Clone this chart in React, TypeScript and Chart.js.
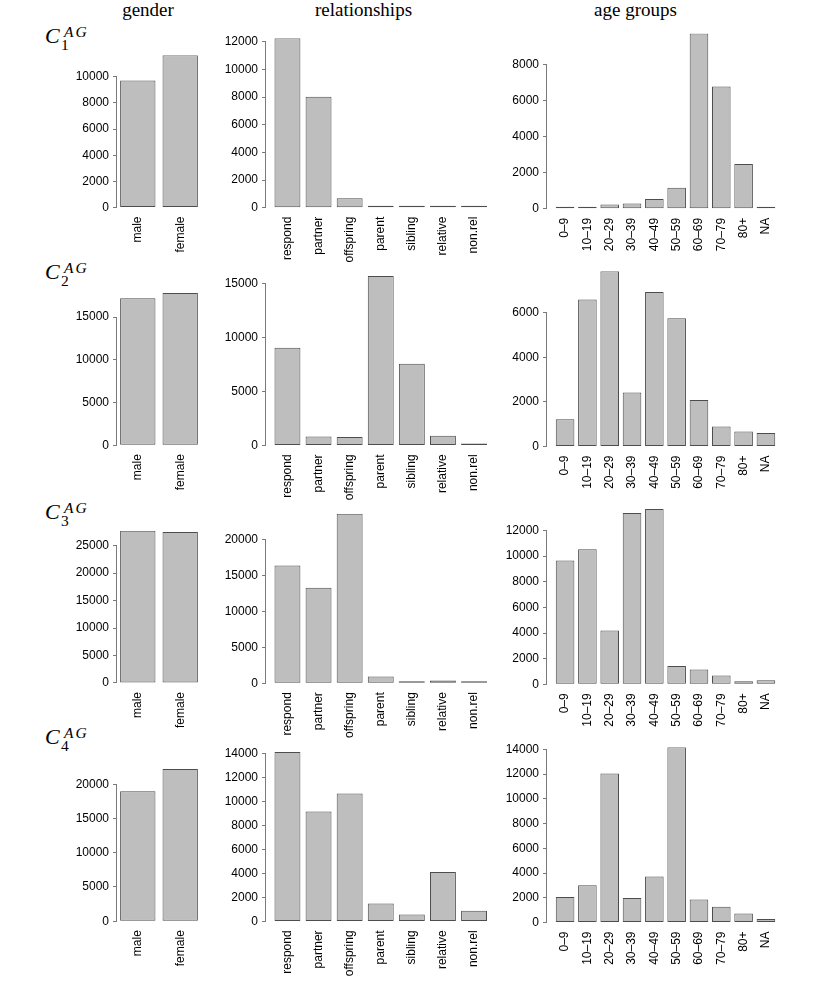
import React, { useEffect, useRef } from "react";
import { Chart, registerables } from "chart.js";

Chart.register(...registerables);

// ---------------- data ----------------
const genderLabels = ["male", "female"];
const relationshipLabels = ["respond", "partner", "offspring", "parent", "sibling", "relative", "non.rel"];
const ageLabels = ["0–9", "10–19", "20–29", "30–39", "40–49", "50–59", "60–69", "70–79", "80+", "NA"];

const genderC1 = [9720, 11640];
const genderC2 = [17190, 17810];
const genderC3 = [27680, 27440];
const genderC4 = [18980, 22240];

const relationshipC1 = [12270, 8040, 680, 150, 120, 110, 90];
const relationshipC2 = [9040, 830, 770, 15680, 7560, 890, 185];
const relationshipC3 = [16390, 13280, 23580, 930, 240, 380, 280];
const relationshipC4 = [14160, 9180, 10680, 1500, 580, 4120, 890];

const ageC1 = [20, 70, 240, 290, 550, 1170, 9720, 6780, 2480, 20];
const ageC2 = [1225, 6590, 7850, 2420, 6920, 5750, 2080, 900, 670, 600];
const ageC3 = [9650, 10540, 4200, 13360, 13670, 1430, 1150, 680, 235, 310];
const ageC4 = [2070, 3020, 12050, 1990, 3720, 14160, 1850, 1270, 730, 290];

const genderTickStep = [2000, 5000, 5000, 5000];
const relationshipTickStep = [2000, 5000, 5000, 2000];
const ageTickStep = [2000, 2000, 2000, 2000];

const columnTitles = ["gender", "relationships", "age groups"];
const clusterIndex = ["1", "2", "3", "4"];

const genderSeries = [genderC1, genderC2, genderC3, genderC4];
const relationshipSeries = [relationshipC1, relationshipC2, relationshipC3, relationshipC4];
const ageSeries = [ageC1, ageC2, ageC3, ageC4];

// ---------------- layout / style ----------------
const FILL = "#bebebe";
const EDGE = "#4d4d4d";
const AXIS = "#7a7a7a";
const TEXT = "#000000";
const SANS = "'Liberation Sans', Arial, sans-serif";
const SERIF = "'Liberation Serif', 'Times New Roman', serif";

const COLS = [
  { left: 117, right: 201, height: 152.2, dy: -0.2, titleX: 148 },
  { left: 266, right: 495.5, height: 169.5, dy: 0, titleX: 363.5 },
  { left: 547, right: 784, height: 175.2, dy: 1.1, titleX: 635.5 },
];
const ROW_BASE = [207.7, 445.4, 683.2, 921.4];
const ROW_LABEL_TOP = [29.3, 265, 505, 730];

type PanelProps = { labels: string[]; values: number[]; step: number; col: number; row: number };

function Panel({ labels, values, step, col, row }: PanelProps) {
  const ref = useRef<HTMLCanvasElement>(null);
  const c = COLS[col];
  const YW = 60;
  const XH = 75;
  const PADT = 12;
  const PADR = 14;
  const y0 = ROW_BASE[row] + c.dy;
  const plotTop = y0 - c.height;
  const canvasLeft = c.left - YW;
  const canvasTop = Math.floor(plotTop - PADT);
  const padTop = plotTop - canvasTop;
  const plotW = c.right - c.left;
  const width = Math.ceil(plotW + YW + PADR);
  const padRight = width - YW - plotW;
  const height = Math.ceil(padTop + c.height + XH);
  const xh = height - padTop - c.height;

  useEffect(() => {
    const canvas = ref.current;
    if (!canvas) return;
    const n = labels.length;
    const ext = 0.04 * (1.2 * n - 0.2);
    const startValue = (-0.5 - ext) / 1.2;
    const valueRange = (1.2 * n - 0.2 + 2 * ext) / 1.2;
    const maxV = Math.max(...values);
    const ticks: number[] = [];
    for (let v = 0; v <= maxV; v += step) ticks.push(v);

    const axisPlugin = {
      id: "rAxisLine",
      afterDraw(chart: any) {
        const ys = chart.scales.y;
        const ctx = chart.ctx;
        const x = Math.round(chart.chartArea.left) - 0.5;
        const yA = Math.round(ys.getPixelForValue(0) - 0.5) + 0.5;
        const yB = Math.round(ys.getPixelForValue(ticks[ticks.length - 1]) - 0.5) + 0.5;
        ctx.save();
        ctx.strokeStyle = AXIS;
        ctx.lineWidth = 1;
        ctx.beginPath();
        ctx.moveTo(x, yA + 0.5);
        ctx.lineTo(x, yB - 0.5);
        ctx.stroke();
        ctx.restore();
      },
    };

    const chart = new Chart(canvas, {
      type: "bar",
      data: {
        labels,
        datasets: [
          {
            data: values,
            backgroundColor: FILL,
            borderColor: EDGE,
            borderWidth: 1,
            borderSkipped: false,
            minBarLength: 2,
            categoryPercentage: 1,
            barPercentage: 1 / 1.2,
          } as any,
        ],
      },
      options: {
        responsive: false,
        animation: false,
        devicePixelRatio: 1,
        layout: { padding: { top: padTop, right: padRight, left: 0, bottom: 0 } },
        plugins: {
          legend: { display: false },
          tooltip: { enabled: false },
          title: { display: false },
        },
        scales: {
          x: {
            type: "category",
            offset: true,
            grid: { display: false, drawTicks: false },
            border: { display: false },
            ticks: {
              minRotation: 90,
              maxRotation: 90,
              autoSkip: false,
              padding: 9,
              color: TEXT,
              font: { family: SANS, size: 12 },
            },
            afterBuildTicks: (s: any) => {
              s._startValue = startValue;
              s._valueRange = valueRange;
            },
            afterFit: (s: any) => {
              s.height = xh;
            },
          },
          y: {
            type: "linear",
            min: 0,
            max: maxV,
            grid: {
              display: true,
              drawOnChartArea: false,
              drawTicks: true,
              tickLength: 4,
              color: AXIS,
              lineWidth: 1,
            },
            border: { display: false },
            ticks: {
              padding: 4,
              color: TEXT,
              autoSkip: false,
              font: { family: SANS, size: 12 },
              callback: (v: any) => String(v),
            },
            afterBuildTicks: (s: any) => {
              s.ticks = ticks.map((v) => ({ value: v }));
            },
            afterFit: (s: any) => {
              s.width = YW;
            },
          },
        },
      } as any,
      plugins: [axisPlugin],
    });
    return () => chart.destroy();
  }, [labels, values, step, col, row]);

  return (
    <canvas
      ref={ref}
      width={width}
      height={height}
      style={{ position: "absolute", left: canvasLeft, top: canvasTop, width, height }}
    />
  );
}

function RowLabel({ row }: { row: number }) {
  const top = ROW_LABEL_TOP[row];
  return (
    <div style={{ position: "absolute", left: 0, top: 0 }}>
      <span
        style={{
          position: "absolute",
          left: 45,
          top: top - 4.5,
          fontFamily: SERIF,
          fontStyle: "italic",
          fontSize: 22,
          lineHeight: "22px",
          whiteSpace: "nowrap",
          color: "#000",
        }}
      >
        C
      </span>
      <span
        style={{
          position: "absolute",
          left: 64,
          top: top - 5.2,
          fontFamily: SERIF,
          fontStyle: "italic",
          fontSize: 15.5,
          lineHeight: "15.5px",
          letterSpacing: 2,
          whiteSpace: "nowrap",
          color: "#000",
        }}
      >
        AG
      </span>
      <span
        style={{
          position: "absolute",
          left: 61,
          top: top + 7.7,
          fontFamily: SERIF,
          fontSize: 15.5,
          lineHeight: "15.5px",
          whiteSpace: "nowrap",
          color: "#000",
        }}
      >
        {clusterIndex[row]}
      </span>
    </div>
  );
}

export default function App() {
  const columns = [
    { labels: genderLabels, series: genderSeries, steps: genderTickStep },
    { labels: relationshipLabels, series: relationshipSeries, steps: relationshipTickStep },
    { labels: ageLabels, series: ageSeries, steps: ageTickStep },
  ];
  return (
    <div
      style={{
        position: "absolute",
        left: 0,
        top: 0,
        width: 830,
        height: 997,
        background: "#ffffff",
        overflow: "hidden",
      }}
    >
      {columnTitles.map((t, i) => (
        <div
          key={t}
          style={{
            position: "absolute",
            left: COLS[i].titleX - 100,
            top: 0,
            width: 200,
            textAlign: "center",
            fontFamily: SERIF,
            fontSize: 19,
            lineHeight: "19px",
            color: "#000",
          }}
        >
          {t}
        </div>
      ))}
      {clusterIndex.map((_, r) => (
        <RowLabel key={"rl" + r} row={r} />
      ))}
      {columns.map((colDef, ci) =>
        colDef.series.map((vals, r) => (
          <Panel
            key={ci + "-" + r}
            labels={colDef.labels}
            values={vals}
            step={colDef.steps[r]}
            col={ci}
            row={r}
          />
        ))
      )}
    </div>
  );
}
